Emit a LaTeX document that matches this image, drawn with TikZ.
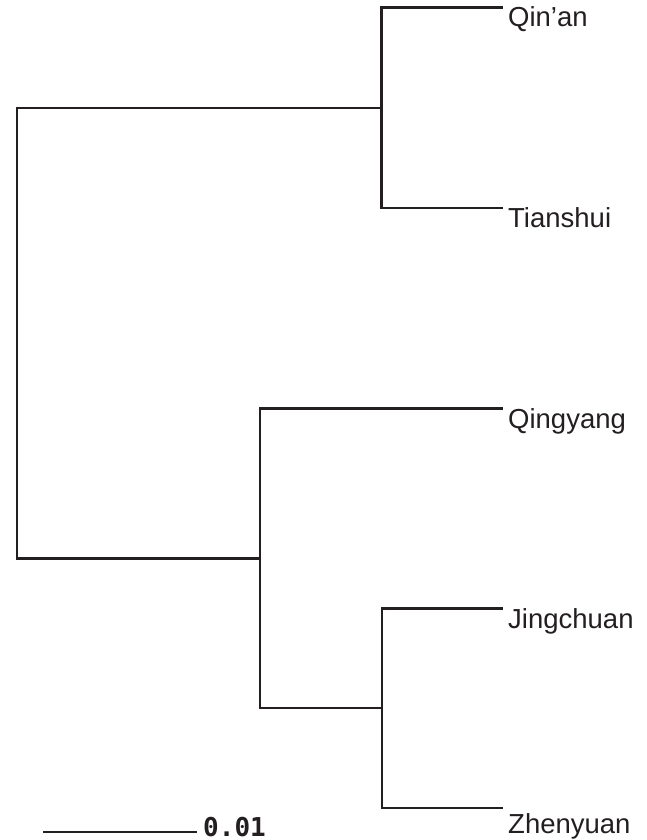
\documentclass[tikz,border=0pt]{standalone}
\usepackage{fontspec}
\setmainfont{Liberation Sans}
\newfontfamily\scalefont{DejaVu Sans Mono}
\definecolor{treeline}{HTML}{231F20}
\begin{document}
\begin{tikzpicture}[x=1pt,y=-1pt,
  branch/.style={draw=treeline,line width=2.5pt,line cap=rect,line join=miter},
  leaflabel/.style={anchor=base west,inner sep=0pt,font=\fontsize{27.5}{30}\selectfont,text=treeline},
  scalelabel/.style={anchor=base west,inner sep=0pt,font=\scalefont\bfseries\fontsize{26}{28}\selectfont,text=treeline}]
\useasboundingbox (0,0) rectangle (646,840);
% internal nodes
\coordinate (R) at (17,333);
\coordinate (A) at (381.5,108);
\coordinate (B) at (260,558.5);
\coordinate (C) at (382,708);
% leaf tips
\coordinate (tq) at (502,7.5);
\coordinate (tt) at (502,208);
\coordinate (tqy) at (502,408.5);
\coordinate (tj) at (502,608.5);
\coordinate (tz) at (502,808);
% labels
\node[leaflabel] (qinan) at (508,27) {Qin’an};
\node[leaflabel] (tianshui) at (508,227) {Tianshui};
\node[leaflabel] (qingyang) at (508,428.5) {Qingyang};
\node[leaflabel] (jingchuan) at (508,628.5) {Jingchuan};
\node[leaflabel] (zhenyuan) at (508,833) {Zhenyuan};
% tree
\path[branch] (A) -| (R) |- (B);
\path[branch] (tq) -| (A) |- (tt);
\path[branch] (tqy) -| (B) |- (C);
\path[branch] (tj) -| (C) |- (tz);
% scale bar
\coordinate (s1) at (43,832);
\coordinate (s2) at (197,832);
\path[branch,line cap=butt] (s1) -- (s2);
\node[scalelabel] (scale) at (203,836) {0.01};
\end{tikzpicture}
\end{document}
